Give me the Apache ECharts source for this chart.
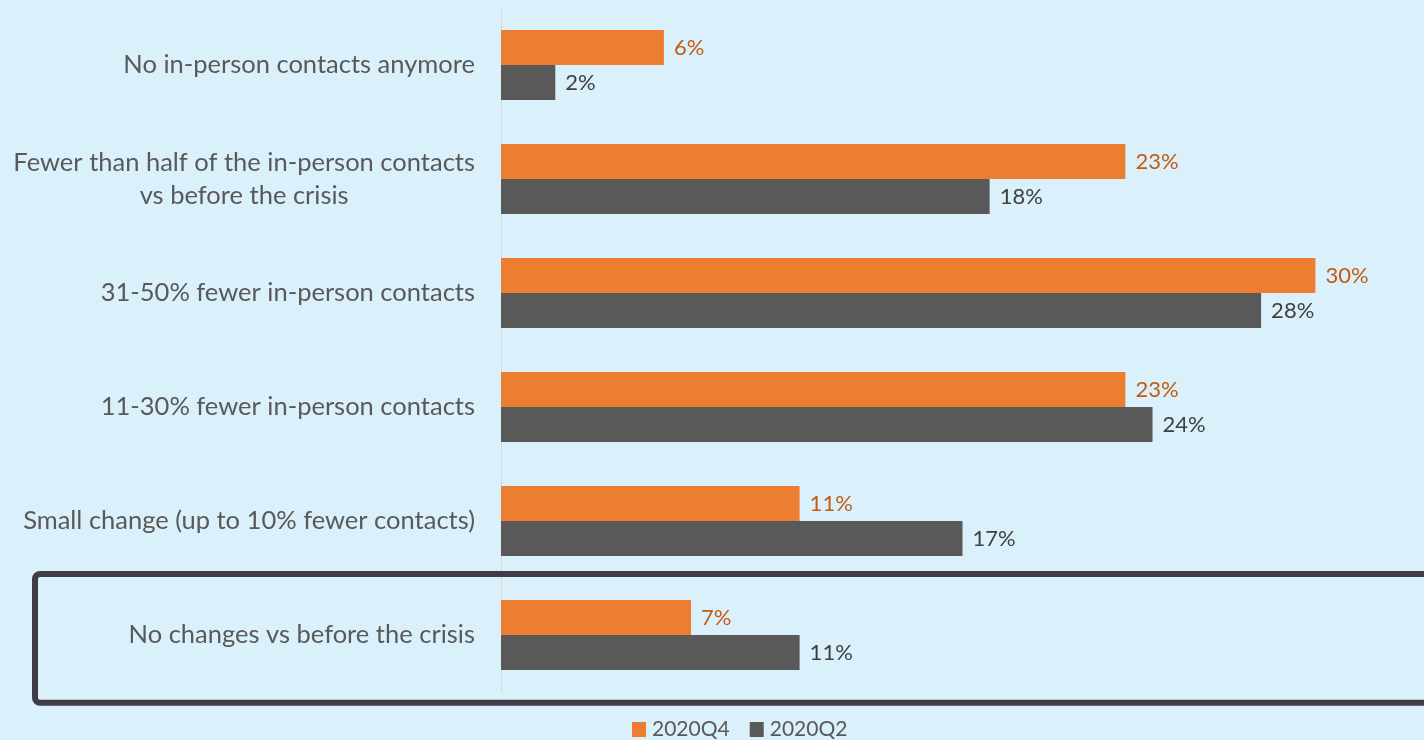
<!DOCTYPE html>
<html>
<head>
<meta charset="utf-8">
<script src="https://cdn.jsdelivr.net/npm/echarts@6/dist/echarts.min.js"></script>
<style>
  html, body { margin: 0; padding: 0; background: #daf1fb; }
  #chart { width: 1424px; height: 740px; }
</style>
</head>
<body>
<div id="chart"></div>
<script>
const categories = [
  'No in-person contacts anymore',
  'Fewer than half of the in-person contacts\nvs before the crisis',
  '31-50% fewer in-person contacts',
  '11-30% fewer in-person contacts',
  'Small change (up to 10% fewer contacts)',
  'No changes vs before the crisis'
];
const q4Values = [6, 23, 30, 23, 11, 7];
const q2Values = [2, 18, 28, 24, 17, 11];
const seriesNames = ['2020Q4', '2020Q2'];
const highlightIndex = 5;

const FONT = 'Lato, "Open Sans", sans-serif';
const chart = echarts.init(document.getElementById('chart'));

chart.setOption({
  backgroundColor: '#daf1fb',
  animation: false,
  textStyle: { fontFamily: FONT },
  grid: { left: 501, right: 0, top: 8, bottom: 48, containLabel: false },
  legend: {
    top: 719,
    left: 632,
    padding: 0,
    icon: 'rect',
    itemWidth: 14,
    itemHeight: 15,
    itemGap: 20,
    textStyle: { fontSize: 21, color: '#595959', fontFamily: FONT, padding: [0, 0, 0, 1] },
    data: seriesNames
  },
  xAxis: {
    type: 'value',
    min: 0,
    max: 34,
    show: false
  },
  yAxis: {
    type: 'category',
    inverse: true,
    data: categories,
    axisTick: { show: false },
    axisLine: { show: true, lineStyle: { color: '#d9d9d9', width: 1 } },
    axisLabel: {
      margin: 26,
      fontSize: 25.5,
      color: '#595959',
      fontFamily: FONT,
      lineHeight: 33,
      formatter: function (v) {
        return v.split('\n').map(function (s) { return '{c|' + s + '}'; }).join('\n');
      },
      rich: { c: { align: 'center', fontSize: 25.5, color: '#595959', fontFamily: FONT, lineHeight: 33 } }
    }
  },
  series: [
    {
      name: seriesNames[0],
      type: 'bar',
      data: q4Values,
      barWidth: 35,
      barGap: '0%',
      itemStyle: { color: '#ed7d31' },
      label: {
        show: true, position: 'right', distance: 10,
        formatter: '{c}%', fontSize: 22, color: '#c55a11', fontFamily: FONT
      }
    },
    {
      name: seriesNames[1],
      type: 'bar',
      data: q2Values,
      barWidth: 35,
      barGap: '0%',
      itemStyle: { color: '#595959' },
      label: {
        show: true, position: 'right', distance: 10,
        formatter: '{c}%', fontSize: 22, color: '#404040', fontFamily: FONT
      }
    }
  ]
});

// Outline around the highlighted category, placed from the axis band
function drawHighlight() {
  const yAxisModel = chart.getModel().getComponent('yAxis', 0);
  const axis = yAxisModel.axis;
  const center = chart.convertToPixel({ yAxisIndex: 0 }, categories[highlightIndex]);
  const band = axis.getBandWidth();
  const top = center - band * 0.535;
  const bottom = center + band * 0.595;
  chart.setOption({
    graphic: [{
      type: 'rect',
      z: 100,
      silent: true,
      shape: { x: 35, y: top, width: 1420, height: bottom - top, r: 5 },
      style: { fill: 'none', stroke: '#403c48', lineWidth: 6 }
    }]
  });
}
drawHighlight();
</script>
</body>
</html>
